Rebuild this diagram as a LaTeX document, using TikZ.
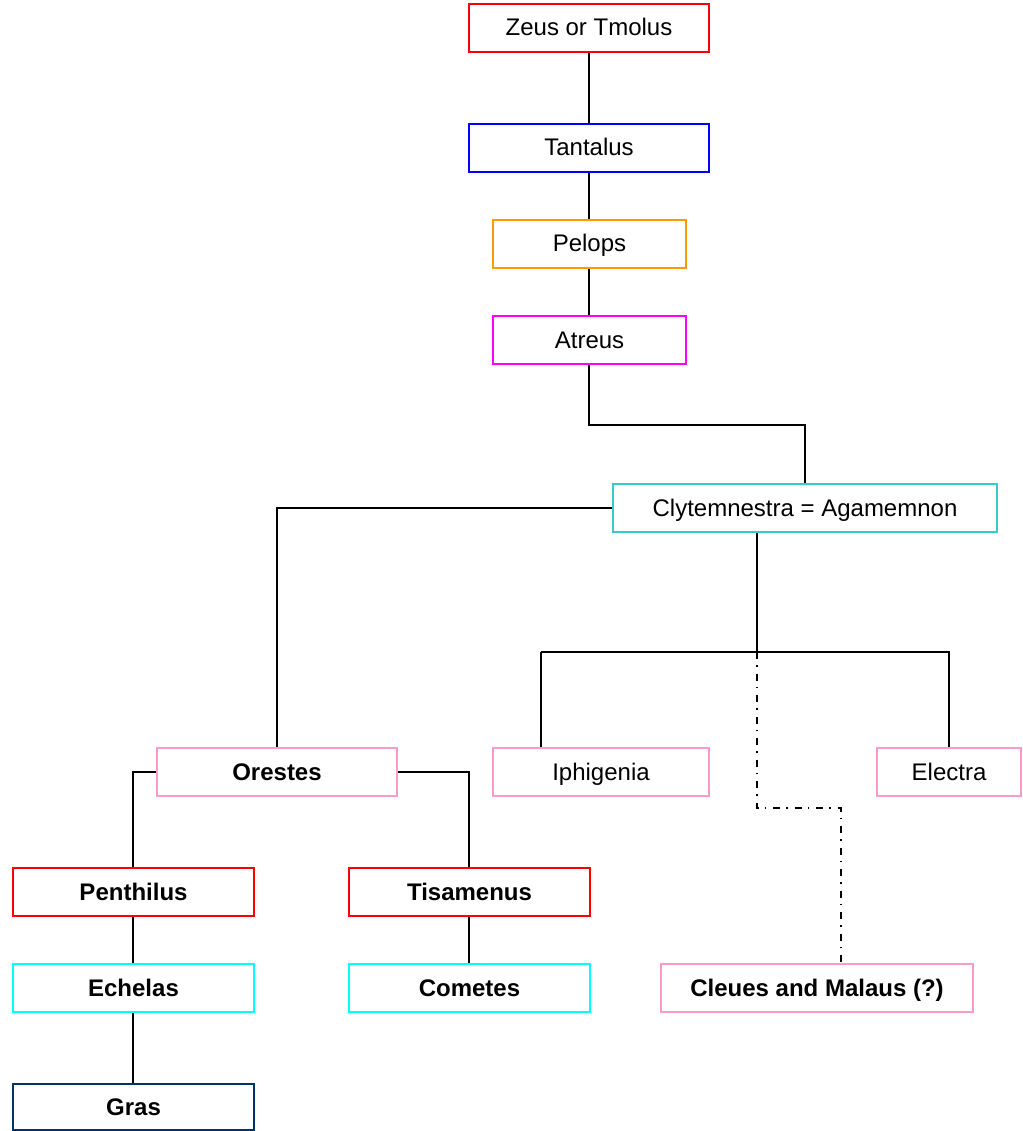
\documentclass[tikz,border=0pt]{standalone}
\usepackage{fontspec}
\setmainfont{Liberation Sans}
\usetikzlibrary{backgrounds}
\definecolor{cRed}{RGB}{255,0,0}
\definecolor{cBlue}{RGB}{0,0,255}
\definecolor{cOrange}{RGB}{255,153,0}
\definecolor{cMag}{RGB}{255,0,255}
\definecolor{cTurq}{RGB}{51,204,204}
\definecolor{cCyan}{RGB}{0,255,255}
\definecolor{cPink}{RGB}{255,153,204}
\definecolor{cNavy}{RGB}{0,51,102}
\begin{document}
\begin{tikzpicture}[x=1pt,y=-1pt,
  box/.style={draw, rectangle, line width=1.5pt, minimum height=48pt, inner sep=0pt,
    text height=18pt, text depth=2pt,
    font=\fontsize{24}{28}\selectfont, fill=white},
  bbox/.style={box, font=\fontsize{24}{28}\selectfont\bfseries},
  link/.style={draw=black, line width=1.5pt},
  dlink/.style={draw=black, line width=1.5pt, dash pattern=on 7pt off 6pt on 1.5pt off 7pt}]
\useasboundingbox (0,0) rectangle (1022,1131);
\node[box, draw=cRed, minimum width=240pt] (zeus) at (589,28) {Zeus or Tmolus};
\node[box, draw=cBlue, minimum width=240pt] (tant) at (589,148) {Tantalus};
\node[box, draw=cOrange, minimum width=193pt] (pelops) at (589.5,244) {Pelops};
\node[box, draw=cMag, minimum width=193pt] (atreus) at (589.5,340) {Atreus};
\node[box, draw=cTurq, minimum width=384pt] (clyt) at (805,508) {Clytemnestra = Agamemnon};
\node[bbox, draw=cPink, minimum width=240pt] (orestes) at (277,772) {Orestes};
\node[box, draw=cPink, minimum width=216pt] (iphi) at (601,772) {Iphigenia};
\node[box, draw=cPink, minimum width=144pt] (electra) at (949,772) {Electra};
\node[bbox, draw=cRed, minimum width=241pt] (penth) at (133.5,892) {Penthilus};
\node[bbox, draw=cRed, minimum width=241pt] (tisa) at (469.5,892) {Tisamenus};
\node[bbox, draw=cCyan, minimum width=241pt] (echelas) at (133.5,988) {Echelas};
\node[bbox, draw=cCyan, minimum width=241pt] (cometes) at (469.5,988) {Cometes};
\node[bbox, draw=cNavy, minimum width=241pt, minimum height=46pt] (gras) at (133.5,1107) {Gras};
\node[bbox, draw=cPink, minimum width=312pt] (cleues) at (817,988) {Cleues and Malaus (?)};

\coordinate (cb) at (757,652);
\coordinate (bar) at (541,652);
\coordinate (dk) at (757,808);
\coordinate (cl) at (841,964);

\begin{pgfonlayer}{background}
\draw[link] (zeus.south -| 589,0) -- (tant.north -| 589,0);
\draw[link] (tant.south -| 589,0) -- (pelops.north -| 589,0);
\draw[link] (pelops.south -| 589,0) -- (atreus.north -| 589,0);
\draw[link] (atreus.south -| 589,0) -- ++(0,60) -| (clyt.north);
\draw[link] (clyt.west) -| (orestes.north);
\draw[link] (clyt.south -| cb) -- (cb);
\draw[link] (bar) -| (electra.north);
\draw[link] (bar) -- (bar |- iphi.north);
\draw[dlink] (cb) -- (dk) -| (cl);
\draw[link] (orestes.west) -| (penth.north -| 133,0);
\draw[link] (orestes.east) -| (tisa.north -| 469,0);
\draw[link] (penth.south -| 133,0) -- (echelas.north -| 133,0);
\draw[link] (echelas.south -| 133,0) -- (gras.north -| 133,0);
\draw[link] (tisa.south -| 469,0) -- (cometes.north -| 469,0);
\end{pgfonlayer}
\end{tikzpicture}
\end{document}
